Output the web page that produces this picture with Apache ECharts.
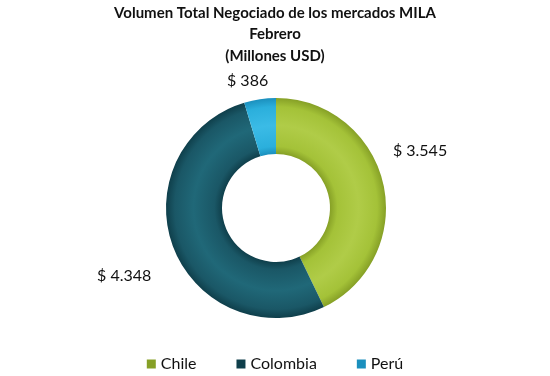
<!DOCTYPE html>
<html><head><meta charset="utf-8">
<script src="https://cdn.jsdelivr.net/npm/echarts@6/dist/echarts.min.js"></script>
<style>html,body{margin:0;padding:0;background:#fff}#c{width:550px;height:376px}</style>
</head><body><div id="c"></div>
<script>
const categories = ['Chile', 'Colombia', 'Perú'];
const values = [3545, 4348, 386];
const labelTexts = ['$ 3.545', '$ 4.348', '$ 386'];
const titleLines = ['Volumen Total Negociado de los mercados MILA', 'Febrero', '(Millones USD)'];

const CX = 276, CY = 208, R0 = 54, R1 = 110;
function grad(dark, base, light) {
  return new echarts.graphic.RadialGradient(CX, CY, R1, [
    {offset: 0.49, color: dark},
    {offset: 0.56, color: base},
    {offset: 0.75, color: light},
    {offset: 0.92, color: base},
    {offset: 1, color: dark}
  ], true);
}
const colors = [
  grad('#86a026', '#a4c238', '#b0cc48'),
  grad('#0f3f4b', '#1a5766', '#206878'),
  grad('#1b8fbd', '#2bafdc', '#3bbbe6')
];
const labelShift = [[-13, -30], [0, 23], [21, -6]];

const chart = echarts.init(document.getElementById('c'), null, {renderer: 'canvas'});
chart.setOption({
  animation: false,
  title: {
    text: titleLines.join('\n'),
    left: 'center', top: -3,
    textStyle: {fontFamily: 'Lato', fontWeight: 'bold', fontSize: 15, lineHeight: 21.5, color: '#111'}
  },
  legend: {
    bottom: -1, left: 'center',
    itemWidth: 9, itemHeight: 9, itemGap: 40,
    icon: 'rect',
    textStyle: {fontFamily: 'Lato', fontSize: 16, color: '#111'},
    data: categories
  },
  series: [{
    type: 'pie',
    center: [CX, CY],
    radius: [R0, R1],
    startAngle: 90,
    clockwise: true,
    avoidLabelOverlap: false,
    label: {
      show: true,
      position: 'outside',
      formatter: p => labelTexts[p.dataIndex],
      fontFamily: 'Lato', fontSize: 16, color: '#111'
    },
    labelLine: {show: false, length: 12, length2: 6},
    labelLayout: p => ({dx: labelShift[p.dataIndex][0], dy: labelShift[p.dataIndex][1]}),
    itemStyle: {borderColor: '#fff', borderWidth: 0},
    data: categories.map((c, i) => ({name: c, value: values[i], itemStyle: {color: colors[i]}}))
  }]
});
</script></body></html>
